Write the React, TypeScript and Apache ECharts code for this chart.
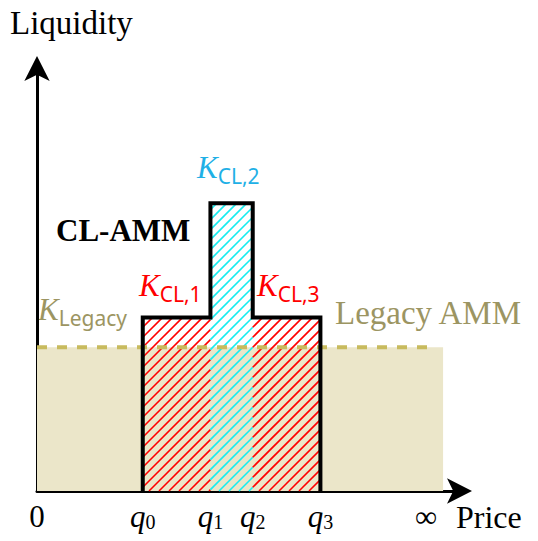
import React, { useEffect, useRef } from "react";
import * as echarts from "echarts";

// ---- data ----
const priceTicks = [0, 25, 41, 51, 67, 92];
const tickLabels = ["0", "q0", "q1", "q2", "q3", "∞"];
const legacyEnd = 96;
const legacyDashEnd = 94;
const legacyLevel = 34;
const clBounds = [25, 41, 51, 67];
const clLevels = [41, 68, 41];
const clColors = ["#ff0000", "#16ecf0", "#ff0000"];

const SERIF = "'Liberation Serif', 'DejaVu Serif', serif";
const SANS = "'Noto Sans', 'DejaVu Sans', sans-serif";
const RED = "#ff0000";
const SKY = "#1fb0e6";
const OLIVE = "#9c9562";

const HATCH_STEP = 10;

export default function App() {
  const ref = useRef<HTMLDivElement>(null);
  useEffect(() => {
    if (!ref.current) return;
    const chart = echarts.init(ref.current, null, { renderer: "svg" });
    const hatchData = clLevels.map((h, i) => [clBounds[i], clBounds[i + 1], h, i]);
    const outline: number[][] = [[clBounds[0], 0]];
    clLevels.forEach((h, i) => {
      outline.push([clBounds[i], h]);
      outline.push([clBounds[i + 1], h]);
    });
    outline.push([clBounds[3], 0]);

    const tickRich = {
      n: { fontFamily: SERIF, fontSize: 31, color: "#000" },
      q: { fontFamily: SERIF, fontSize: 31, fontStyle: "italic", color: "#000" },
      s: { fontFamily: SERIF, fontSize: 20, color: "#000", padding: [10, 0, 0, 0] },
    };

    const kRich = (color: string) => ({
      k: { fontFamily: SERIF, fontStyle: "italic", fontSize: 31, fill: color, verticalAlign: "bottom", padding: [0, 0, 3, 0] },
      s: { fontFamily: SANS, fontSize: 21, fill: color, verticalAlign: "bottom" },
    });

    const arrowLine = {
      show: true,
      lineStyle: { color: "#000", width: 3 },
      symbol: ["none", "arrow"],
      symbolSize: [19, 25],
      symbolOffset: [0, 12],
    };

    chart.setOption({
      animation: false,
      grid: { left: 37, right: 78, top: 68, bottom: 50, containLabel: false },
      xAxis: {
        type: "value",
        min: 0,
        max: 100,
        splitLine: { show: false },
        axisTick: { show: false },
        axisLine: arrowLine,
        axisLabel: {
          show: true,
          customValues: priceTicks,
          margin: 10,
          formatter: (v: number) => {
            const i = priceTicks.indexOf(v);
            const t = tickLabels[i] ?? "";
            if (t.startsWith("q")) return `{q|q}{s|${t.slice(1)}}`;
            return `{n|${t}}`;
          },
          rich: tickRich,
        },
      },
      yAxis: {
        type: "value",
        min: 0,
        max: 100,
        splitLine: { show: false },
        axisTick: { show: false },
        axisLabel: { show: false },
        axisLine: arrowLine,
      },
      series: [
        {
          type: "custom",
          name: "Legacy fill",
          z: 1,
          silent: true,
          data: [[0, legacyEnd, legacyLevel]],
          renderItem: (params: any, api: any) => {
            const p0 = api.coord([api.value(0), 0]);
            const p1 = api.coord([api.value(1), api.value(2)]);
            return {
              type: "rect",
              shape: { x: p0[0], y: p1[1], width: p1[0] - p0[0], height: p0[1] - p1[1] },
              style: { fill: "#ebe6c9" },
            };
          },
        },
        {
          type: "custom",
          name: "CL hatch",
          z: 2,
          silent: true,
          data: hatchData,
          renderItem: (params: any, api: any) => {
            const p0 = api.coord([api.value(0), 0]);
            const p1 = api.coord([api.value(1), api.value(2)]);
            const color = clColors[api.value(3)];
            const x0 = p0[0], x1 = p1[0], yTop = p1[1], yBot = p0[1];
            const children: any[] = [];
            const cMin = x0 + yTop;
            const cMax = x1 + yBot;
            for (let c = Math.ceil(cMin / HATCH_STEP) * HATCH_STEP; c <= cMax; c += HATCH_STEP) {
              const ya = Math.max(yTop, c - x1);
              const yb = Math.min(yBot, c - x0);
              if (yb <= ya) continue;
              children.push({
                type: "line",
                shape: { x1: c - ya, y1: ya, x2: c - yb, y2: yb },
                style: { stroke: color, lineWidth: 1.6 },
              });
            }
            return { type: "group", children };
          },
        },
        {
          type: "line",
          name: "Legacy level",
          z: 3,
          symbol: "none",
          data: [
            [0, legacyLevel],
            [legacyDashEnd, legacyLevel],
          ],
          lineStyle: { color: "#c8bb5e", width: 4, type: [10, 10] },
        },
        {
          type: "line",
          name: "CL outline",
          z: 4,
          symbol: "none",
          data: outline,
          lineStyle: { color: "#000", width: 4, join: "miter", cap: "square" },
        },
      ],
      graphic: [
        { type: "text", x: 10, y: 23, style: { text: "Liquidity", font: `33px ${SERIF}`, fill: "#000", verticalAlign: "middle" } },
        { type: "text", x: 456, y: 517, style: { text: "Price", font: `32px ${SERIF}`, fill: "#000", verticalAlign: "middle" } },
        { type: "text", x: 335, y: 313, style: { text: "Legacy AMM", font: `33px ${SERIF}`, fill: OLIVE, verticalAlign: "middle" } },
        { type: "text", x: 56, y: 230, style: { text: "CL-AMM", font: `bold 31px ${SERIF}`, fill: "#000", verticalAlign: "middle" } },
        { type: "text", x: 197, y: 186, style: { text: "{k|K}{s|CL,2}", rich: kRich(SKY), verticalAlign: "bottom" } },
        { type: "text", x: 139, y: 304, style: { text: "{k|K}{s|CL,1}", rich: kRich(RED), verticalAlign: "bottom" } },
        { type: "text", x: 257, y: 304, style: { text: "{k|K}{s|CL,3}", rich: kRich(RED), verticalAlign: "bottom" } },
        { type: "text", x: 38, y: 328, style: { text: "{k|K}{s|Legacy}", rich: kRich(OLIVE), verticalAlign: "bottom" } },
      ],
    });
    return () => chart.dispose();
  }, []);
  return <div ref={ref} style={{ width: 538, height: 541, position: "absolute", left: 0, top: 0 }} />;
}
